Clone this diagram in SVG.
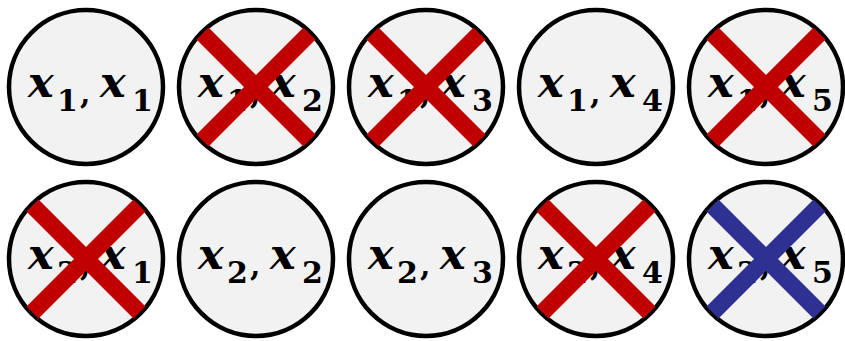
<svg xmlns="http://www.w3.org/2000/svg" width="845" height="341" viewBox="0 0 845 341">
<style>
.c{fill:#F2F2F2;stroke:#000;stroke-width:4.5}
.v{font-family:"DejaVu Serif",serif;font-weight:bold;font-style:italic;font-size:43px;fill:#000}
.s{font-family:"DejaVu Serif",serif;font-weight:bold;font-style:normal;font-size:30px;fill:#000}
.xr{stroke:#C00000;stroke-width:17;fill:none}
.xb{stroke:#2E3192;stroke-width:17;fill:none}
</style>
<defs>
<path id="cross" d="M-53.5,-53.5L53.5,53.5M-53.5,53.5L53.5,-53.5"/>
</defs>
<g id="n11" transform="translate(86,87)"><circle class="c" r="77"/><text><tspan class="v" x="-58" y="10">x</tspan><tspan class="s" x="-29" y="24">1</tspan><tspan class="s" x="-6" y="17">,</tspan><tspan class="v" x="14" y="10">x</tspan><tspan class="s" x="46" y="24">1</tspan></text></g>
<g id="n12" transform="translate(256,87)"><circle class="c" r="77"/><text><tspan class="v" x="-58" y="10">x</tspan><tspan class="s" x="-29" y="24">1</tspan><tspan class="s" x="-6" y="17">,</tspan><tspan class="v" x="14" y="10">x</tspan><tspan class="s" x="46" y="24">2</tspan></text><use href="#cross" class="xr"/></g>
<g id="n13" transform="translate(426,87)"><circle class="c" r="77"/><text><tspan class="v" x="-58" y="10">x</tspan><tspan class="s" x="-29" y="24">1</tspan><tspan class="s" x="-6" y="17">,</tspan><tspan class="v" x="14" y="10">x</tspan><tspan class="s" x="46" y="24">3</tspan></text><use href="#cross" class="xr"/></g>
<g id="n14" transform="translate(596,87)"><circle class="c" r="77"/><text><tspan class="v" x="-58" y="10">x</tspan><tspan class="s" x="-29" y="24">1</tspan><tspan class="s" x="-6" y="17">,</tspan><tspan class="v" x="14" y="10">x</tspan><tspan class="s" x="46" y="24">4</tspan></text></g>
<g id="n15" transform="translate(766,87)"><circle class="c" r="77"/><text><tspan class="v" x="-58" y="10">x</tspan><tspan class="s" x="-29" y="24">1</tspan><tspan class="s" x="-6" y="17">,</tspan><tspan class="v" x="14" y="10">x</tspan><tspan class="s" x="46" y="24">5</tspan></text><use href="#cross" class="xr"/></g>
<g id="n21" transform="translate(86,259)"><circle class="c" r="77"/><text><tspan class="v" x="-58" y="10">x</tspan><tspan class="s" x="-29" y="24">2</tspan><tspan class="s" x="-6" y="17">,</tspan><tspan class="v" x="14" y="10">x</tspan><tspan class="s" x="46" y="24">1</tspan></text><use href="#cross" class="xr"/></g>
<g id="n22" transform="translate(256,259)"><circle class="c" r="77"/><text><tspan class="v" x="-58" y="10">x</tspan><tspan class="s" x="-29" y="24">2</tspan><tspan class="s" x="-6" y="17">,</tspan><tspan class="v" x="14" y="10">x</tspan><tspan class="s" x="46" y="24">2</tspan></text></g>
<g id="n23" transform="translate(426,259)"><circle class="c" r="77"/><text><tspan class="v" x="-58" y="10">x</tspan><tspan class="s" x="-29" y="24">2</tspan><tspan class="s" x="-6" y="17">,</tspan><tspan class="v" x="14" y="10">x</tspan><tspan class="s" x="46" y="24">3</tspan></text></g>
<g id="n24" transform="translate(596,259)"><circle class="c" r="77"/><text><tspan class="v" x="-58" y="10">x</tspan><tspan class="s" x="-29" y="24">2</tspan><tspan class="s" x="-6" y="17">,</tspan><tspan class="v" x="14" y="10">x</tspan><tspan class="s" x="46" y="24">4</tspan></text><use href="#cross" class="xr"/></g>
<g id="n25" transform="translate(766,259)"><circle class="c" r="77"/><text><tspan class="v" x="-58" y="10">x</tspan><tspan class="s" x="-29" y="24">2</tspan><tspan class="s" x="-6" y="17">,</tspan><tspan class="v" x="14" y="10">x</tspan><tspan class="s" x="46" y="24">5</tspan></text><use href="#cross" class="xb"/></g>
<g id="connectors"/>
</svg>
